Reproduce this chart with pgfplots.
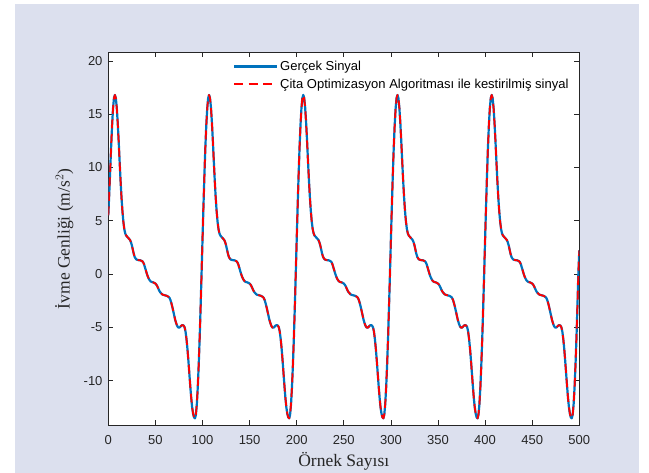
\documentclass[border=0pt]{standalone}
\usepackage{fontspec}
\setmainfont{Liberation Serif}
\newfontfamily\arial{Liberation Sans}
\usepackage{pgfplots}
\usepackage{pgfplotstable}
\pgfplotsset{compat=1.18}
\definecolor{figbg}{RGB}{220,224,238}
\definecolor{mblue}{RGB}{0,114,189}
\definecolor{mred}{RGB}{255,0,0}
\definecolor{axgray}{RGB}{38,38,38}

% one row per sample, five periods of the signal
\pgfplotstableread[row sep=\\]{
x y\\
0 5.5\\ 1 7.5\\ 2 9.7\\ 3 11.9\\ 4 13.9\\ 5 15.5\\ 6 16.5\\ 7 16.8\\ 8 16.5\\ 9 15.6\\ 10 14.2\\ 11 12.5\\ 12 10.6\\ 13 8.8\\ 14 7.2\\ 15 5.9\\ 16 4.9\\ 17 4.2\\ 18 3.8\\ 19 3.6\\ 20 3.5\\ 21 3.4\\ 22 3.3\\ 23 3.2\\ 24 3.0\\ 25 2.7\\ 26 2.3\\ 27 1.9\\ 28 1.6\\ 29 1.45\\ 30 1.35\\ 32 1.3\\ 34 1.28\\ 36 1.2\\ 37 1.1\\ 38 0.9\\ 39 0.6\\ 40 0.3\\ 41 0.0\\ 42 -0.25\\ 43 -0.45\\ 44 -0.6\\ 45 -0.7\\ 46 -0.75\\ 48 -0.8\\ 50 -0.9\\ 51 -1.0\\ 52 -1.15\\ 53 -1.35\\ 54 -1.55\\ 55 -1.7\\ 56 -1.8\\ 57 -1.9\\ 58 -1.95\\ 60 -2.0\\ 62 -2.05\\ 64 -2.15\\ 65 -2.25\\ 66 -2.45\\ 67 -2.75\\ 68 -3.1\\ 69 -3.5\\ 70 -3.9\\ 71 -4.3\\ 72 -4.6\\ 73 -4.85\\ 74 -5.0\\ 75 -5.05\\ 76 -5.0\\ 77 -4.9\\ 78 -4.82\\ 79 -4.8\\ 80 -4.85\\ 81 -5.0\\ 82 -5.4\\ 83 -6.1\\ 84 -7.0\\ 85 -8.1\\ 86 -9.3\\ 87 -10.5\\ 88 -11.6\\ 89 -12.5\\ 90 -13.1\\ 91 -13.45\\ 92 -13.55\\ 93 -13.2\\ 94 -12.2\\ 95 -10.6\\ 96 -8.5\\ 97 -6.0\\ 98 -3.1\\ 99 0.0\\
100 3.2\\ 101 6.3\\ 102 9.2\\ 103 11.8\\ 104 13.9\\ 105 15.5\\ 106 16.5\\ 107 16.8\\ 108 16.5\\ 109 15.6\\ 110 14.2\\ 111 12.5\\ 112 10.6\\ 113 8.8\\ 114 7.2\\ 115 5.9\\ 116 4.9\\ 117 4.2\\ 118 3.8\\ 119 3.6\\ 120 3.5\\ 121 3.4\\ 122 3.3\\ 123 3.2\\ 124 3.0\\ 125 2.7\\ 126 2.3\\ 127 1.9\\ 128 1.6\\ 129 1.45\\ 130 1.35\\ 132 1.3\\ 134 1.28\\ 136 1.2\\ 137 1.1\\ 138 0.9\\ 139 0.6\\ 140 0.3\\ 141 0.0\\ 142 -0.25\\ 143 -0.45\\ 144 -0.6\\ 145 -0.7\\ 146 -0.75\\ 148 -0.8\\ 150 -0.9\\ 151 -1.0\\ 152 -1.15\\ 153 -1.35\\ 154 -1.55\\ 155 -1.7\\ 156 -1.8\\ 157 -1.9\\ 158 -1.95\\ 160 -2.0\\ 162 -2.05\\ 164 -2.15\\ 165 -2.25\\ 166 -2.45\\ 167 -2.75\\ 168 -3.1\\ 169 -3.5\\ 170 -3.9\\ 171 -4.3\\ 172 -4.6\\ 173 -4.85\\ 174 -5.0\\ 175 -5.05\\ 176 -5.0\\ 177 -4.9\\ 178 -4.82\\ 179 -4.8\\ 180 -4.85\\ 181 -5.0\\ 182 -5.4\\ 183 -6.1\\ 184 -7.0\\ 185 -8.1\\ 186 -9.3\\ 187 -10.5\\ 188 -11.6\\ 189 -12.5\\ 190 -13.1\\ 191 -13.45\\ 192 -13.55\\ 193 -13.2\\ 194 -12.2\\ 195 -10.6\\ 196 -8.5\\ 197 -6.0\\ 198 -3.1\\ 199 0.0\\
200 3.2\\ 201 6.3\\ 202 9.2\\ 203 11.8\\ 204 13.9\\ 205 15.5\\ 206 16.5\\ 207 16.8\\ 208 16.5\\ 209 15.6\\ 210 14.2\\ 211 12.5\\ 212 10.6\\ 213 8.8\\ 214 7.2\\ 215 5.9\\ 216 4.9\\ 217 4.2\\ 218 3.8\\ 219 3.6\\ 220 3.5\\ 221 3.4\\ 222 3.3\\ 223 3.2\\ 224 3.0\\ 225 2.7\\ 226 2.3\\ 227 1.9\\ 228 1.6\\ 229 1.45\\ 230 1.35\\ 232 1.3\\ 234 1.28\\ 236 1.2\\ 237 1.1\\ 238 0.9\\ 239 0.6\\ 240 0.3\\ 241 0.0\\ 242 -0.25\\ 243 -0.45\\ 244 -0.6\\ 245 -0.7\\ 246 -0.75\\ 248 -0.8\\ 250 -0.9\\ 251 -1.0\\ 252 -1.15\\ 253 -1.35\\ 254 -1.55\\ 255 -1.7\\ 256 -1.8\\ 257 -1.9\\ 258 -1.95\\ 260 -2.0\\ 262 -2.05\\ 264 -2.15\\ 265 -2.25\\ 266 -2.45\\ 267 -2.75\\ 268 -3.1\\ 269 -3.5\\ 270 -3.9\\ 271 -4.3\\ 272 -4.6\\ 273 -4.85\\ 274 -5.0\\ 275 -5.05\\ 276 -5.0\\ 277 -4.9\\ 278 -4.82\\ 279 -4.8\\ 280 -4.85\\ 281 -5.0\\ 282 -5.4\\ 283 -6.1\\ 284 -7.0\\ 285 -8.1\\ 286 -9.3\\ 287 -10.5\\ 288 -11.6\\ 289 -12.5\\ 290 -13.1\\ 291 -13.45\\ 292 -13.55\\ 293 -13.2\\ 294 -12.2\\ 295 -10.6\\ 296 -8.5\\ 297 -6.0\\ 298 -3.1\\ 299 0.0\\
300 3.2\\ 301 6.3\\ 302 9.2\\ 303 11.8\\ 304 13.9\\ 305 15.5\\ 306 16.5\\ 307 16.8\\ 308 16.5\\ 309 15.6\\ 310 14.2\\ 311 12.5\\ 312 10.6\\ 313 8.8\\ 314 7.2\\ 315 5.9\\ 316 4.9\\ 317 4.2\\ 318 3.8\\ 319 3.6\\ 320 3.5\\ 321 3.4\\ 322 3.3\\ 323 3.2\\ 324 3.0\\ 325 2.7\\ 326 2.3\\ 327 1.9\\ 328 1.6\\ 329 1.45\\ 330 1.35\\ 332 1.3\\ 334 1.28\\ 336 1.2\\ 337 1.1\\ 338 0.9\\ 339 0.6\\ 340 0.3\\ 341 0.0\\ 342 -0.25\\ 343 -0.45\\ 344 -0.6\\ 345 -0.7\\ 346 -0.75\\ 348 -0.8\\ 350 -0.9\\ 351 -1.0\\ 352 -1.15\\ 353 -1.35\\ 354 -1.55\\ 355 -1.7\\ 356 -1.8\\ 357 -1.9\\ 358 -1.95\\ 360 -2.0\\ 362 -2.05\\ 364 -2.15\\ 365 -2.25\\ 366 -2.45\\ 367 -2.75\\ 368 -3.1\\ 369 -3.5\\ 370 -3.9\\ 371 -4.3\\ 372 -4.6\\ 373 -4.85\\ 374 -5.0\\ 375 -5.05\\ 376 -5.0\\ 377 -4.9\\ 378 -4.82\\ 379 -4.8\\ 380 -4.85\\ 381 -5.0\\ 382 -5.4\\ 383 -6.1\\ 384 -7.0\\ 385 -8.1\\ 386 -9.3\\ 387 -10.5\\ 388 -11.6\\ 389 -12.5\\ 390 -13.1\\ 391 -13.45\\ 392 -13.55\\ 393 -13.2\\ 394 -12.2\\ 395 -10.6\\ 396 -8.5\\ 397 -6.0\\ 398 -3.1\\ 399 0.0\\
400 3.2\\ 401 6.3\\ 402 9.2\\ 403 11.8\\ 404 13.9\\ 405 15.5\\ 406 16.5\\ 407 16.8\\ 408 16.5\\ 409 15.6\\ 410 14.2\\ 411 12.5\\ 412 10.6\\ 413 8.8\\ 414 7.2\\ 415 5.9\\ 416 4.9\\ 417 4.2\\ 418 3.8\\ 419 3.6\\ 420 3.5\\ 421 3.4\\ 422 3.3\\ 423 3.2\\ 424 3.0\\ 425 2.7\\ 426 2.3\\ 427 1.9\\ 428 1.6\\ 429 1.45\\ 430 1.35\\ 432 1.3\\ 434 1.28\\ 436 1.2\\ 437 1.1\\ 438 0.9\\ 439 0.6\\ 440 0.3\\ 441 0.0\\ 442 -0.25\\ 443 -0.45\\ 444 -0.6\\ 445 -0.7\\ 446 -0.75\\ 448 -0.8\\ 450 -0.9\\ 451 -1.0\\ 452 -1.15\\ 453 -1.35\\ 454 -1.55\\ 455 -1.7\\ 456 -1.8\\ 457 -1.9\\ 458 -1.95\\ 460 -2.0\\ 462 -2.05\\ 464 -2.15\\ 465 -2.25\\ 466 -2.45\\ 467 -2.75\\ 468 -3.1\\ 469 -3.5\\ 470 -3.9\\ 471 -4.3\\ 472 -4.6\\ 473 -4.85\\ 474 -5.0\\ 475 -5.05\\ 476 -5.0\\ 477 -4.9\\ 478 -4.82\\ 479 -4.8\\ 480 -4.85\\ 481 -5.0\\ 482 -5.4\\ 483 -6.1\\ 484 -7.0\\ 485 -8.1\\ 486 -9.3\\ 487 -10.5\\ 488 -11.6\\ 489 -12.5\\ 490 -13.1\\ 491 -13.45\\ 492 -13.55\\ 493 -13.2\\ 494 -12.2\\ 495 -10.6\\ 496 -8.5\\ 497 -6.0\\ 498 -3.1\\ 499 0.0\\ 500 2.2\\
}\signal

\begin{document}
\begin{tikzpicture}
\useasboundingbox (-108.3pt,-47.7pt) rectangle (540.7pt,425.3pt);
\fill[figbg] (-93.3pt,-47.7pt) rectangle (531pt,421.3pt);
\begin{axis}[
  scale only axis, width=471pt, height=373pt,
  xmin=0, xmax=500, ymin=-14.2, ymax=20.8,
  xtick={0,50,...,500}, ytick={-10,-5,...,20},
  axis background/.style={fill=white},
  axis line style={axgray, line width=0.6pt},
  tick style={axgray, line width=0.6pt},
  tick align=inside, major tick length=5pt,
  xtick pos=both, ytick pos=both,
  ticklabel style={font=\arial\fontsize{13}{13}\selectfont, text=axgray},
  /pgf/number format/assume math mode=true,
  xticklabel style={yshift=-7pt},
  yticklabel style={xshift=-2.3pt},
  every axis x label/.style={at={(rel axis cs:0.5,0)}, anchor=center, yshift=-36pt},
  every axis y label/.style={at={(rel axis cs:0,0.5)}, anchor=center, xshift=-44pt, rotate=90},
  label style={font=\fontsize{17.5}{18}\selectfont, text=axgray},
  xlabel={Örnek Sayısı},
  ylabel={İvme Genliği (m/s$^2$)},
  legend style={draw=none, fill=none, at={(rel axis cs:0.258,0.988)}, anchor=north west,
    font=\arial\fontsize{13}{13}\selectfont, text=black, row sep=3pt},
  legend cell align=left,
  legend image code/.code={\draw[#1] (0pt,0pt) -- (43pt,0pt);},
]
\addplot[mblue, line width=2.2pt, line join=round] table[x=x, y=y] {\signal};
\addplot[mred, line width=1.8pt, dash pattern=on 9pt off 5.5pt, line join=round] table[x=x, y=y] {\signal};
\legend{Gerçek Sinyal, Çita Optimizasyon Algoritması ile kestirilmiş sinyal}
\end{axis}
\end{tikzpicture}
\end{document}
